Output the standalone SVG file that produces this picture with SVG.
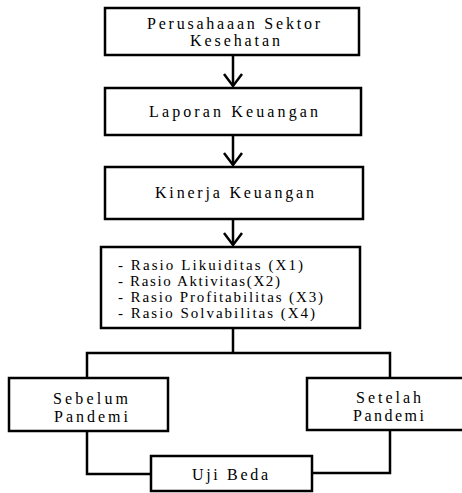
<svg xmlns="http://www.w3.org/2000/svg" width="462" height="493" viewBox="0 0 462 493">
<style>
.box{fill:#fff;stroke:#000;stroke-width:2.5}
.ln{fill:none;stroke:#000;stroke-width:2.5}
.t{font-family:"Liberation Serif","Times New Roman",serif;font-size:16px;fill:#000}
.l{font-family:"Liberation Serif","Times New Roman",serif;font-size:15px;fill:#000}
</style>
<g id="connectors">
<line class="ln" x1="233" y1="55" x2="233" y2="86"/>
<path class="ln" d="M224,74 L233,86 L242,74"/>
<line class="ln" x1="233" y1="135" x2="233" y2="165"/>
<path class="ln" d="M224,153 L233,165 L242,153"/>
<line class="ln" x1="233" y1="219" x2="233" y2="245"/>
<path class="ln" d="M224,233 L233,245 L242,233"/>
<line class="ln" x1="233" y1="328" x2="233" y2="353"/>
<path class="ln" d="M87,378 L87,353 L390,353 L390,378"/>
<path class="ln" d="M87,431 L87,474 L151,474"/>
<path class="ln" d="M390,430 L390,473 L312,473"/>
</g>
<g id="n1">
<rect class="box" x="105" y="8" width="254" height="47"/>
<text class="t" x="147" y="29" textLength="173" lengthAdjust="spacing">Perusahaaan Sektor</text>
<text class="t" x="190" y="46" textLength="90" lengthAdjust="spacing">Kesehatan</text>
</g>
<g id="n2">
<rect class="box" x="105" y="88" width="256" height="47"/>
<text class="t" x="149" y="117" textLength="169" lengthAdjust="spacing">Laporan Keuangan</text>
</g>
<g id="n3">
<rect class="box" x="105" y="167" width="258" height="52"/>
<text class="t" x="155" y="198" textLength="159" lengthAdjust="spacing">Kinerja Keuangan</text>
</g>
<g id="n4">
<rect class="box" x="101" y="247" width="259" height="81"/>
<text class="l" x="118" y="270" textLength="185" lengthAdjust="spacing">- Rasio Likuiditas (X1)</text>
<text class="l" x="118" y="286" textLength="162" lengthAdjust="spacing">- Rasio Aktivitas(X2)</text>
<text class="l" x="118" y="302" textLength="205" lengthAdjust="spacing">- Rasio Profitabilitas (X3)</text>
<text class="l" x="118" y="318" textLength="197" lengthAdjust="spacing">- Rasio Solvabilitas (X4)</text>
</g>
<g id="n5">
<rect class="box" x="9" y="378" width="159" height="53"/>
<text class="t" x="53" y="404" textLength="75" lengthAdjust="spacing">Sebelum</text>
<text class="t" x="54" y="422" textLength="74" lengthAdjust="spacing">Pandemi</text>
</g>
<g id="n6">
<rect class="box" x="307" y="378" width="160" height="52"/>
<text class="t" x="356" y="403" textLength="65" lengthAdjust="spacing">Setelah</text>
<text class="t" x="353" y="421" textLength="71" lengthAdjust="spacing">Pandemi</text>
</g>
<g id="n7">
<rect class="box" x="151" y="456" width="161" height="35"/>
<text class="t" x="192" y="480" textLength="76" lengthAdjust="spacing">Uji Beda</text>
</g>
</svg>
